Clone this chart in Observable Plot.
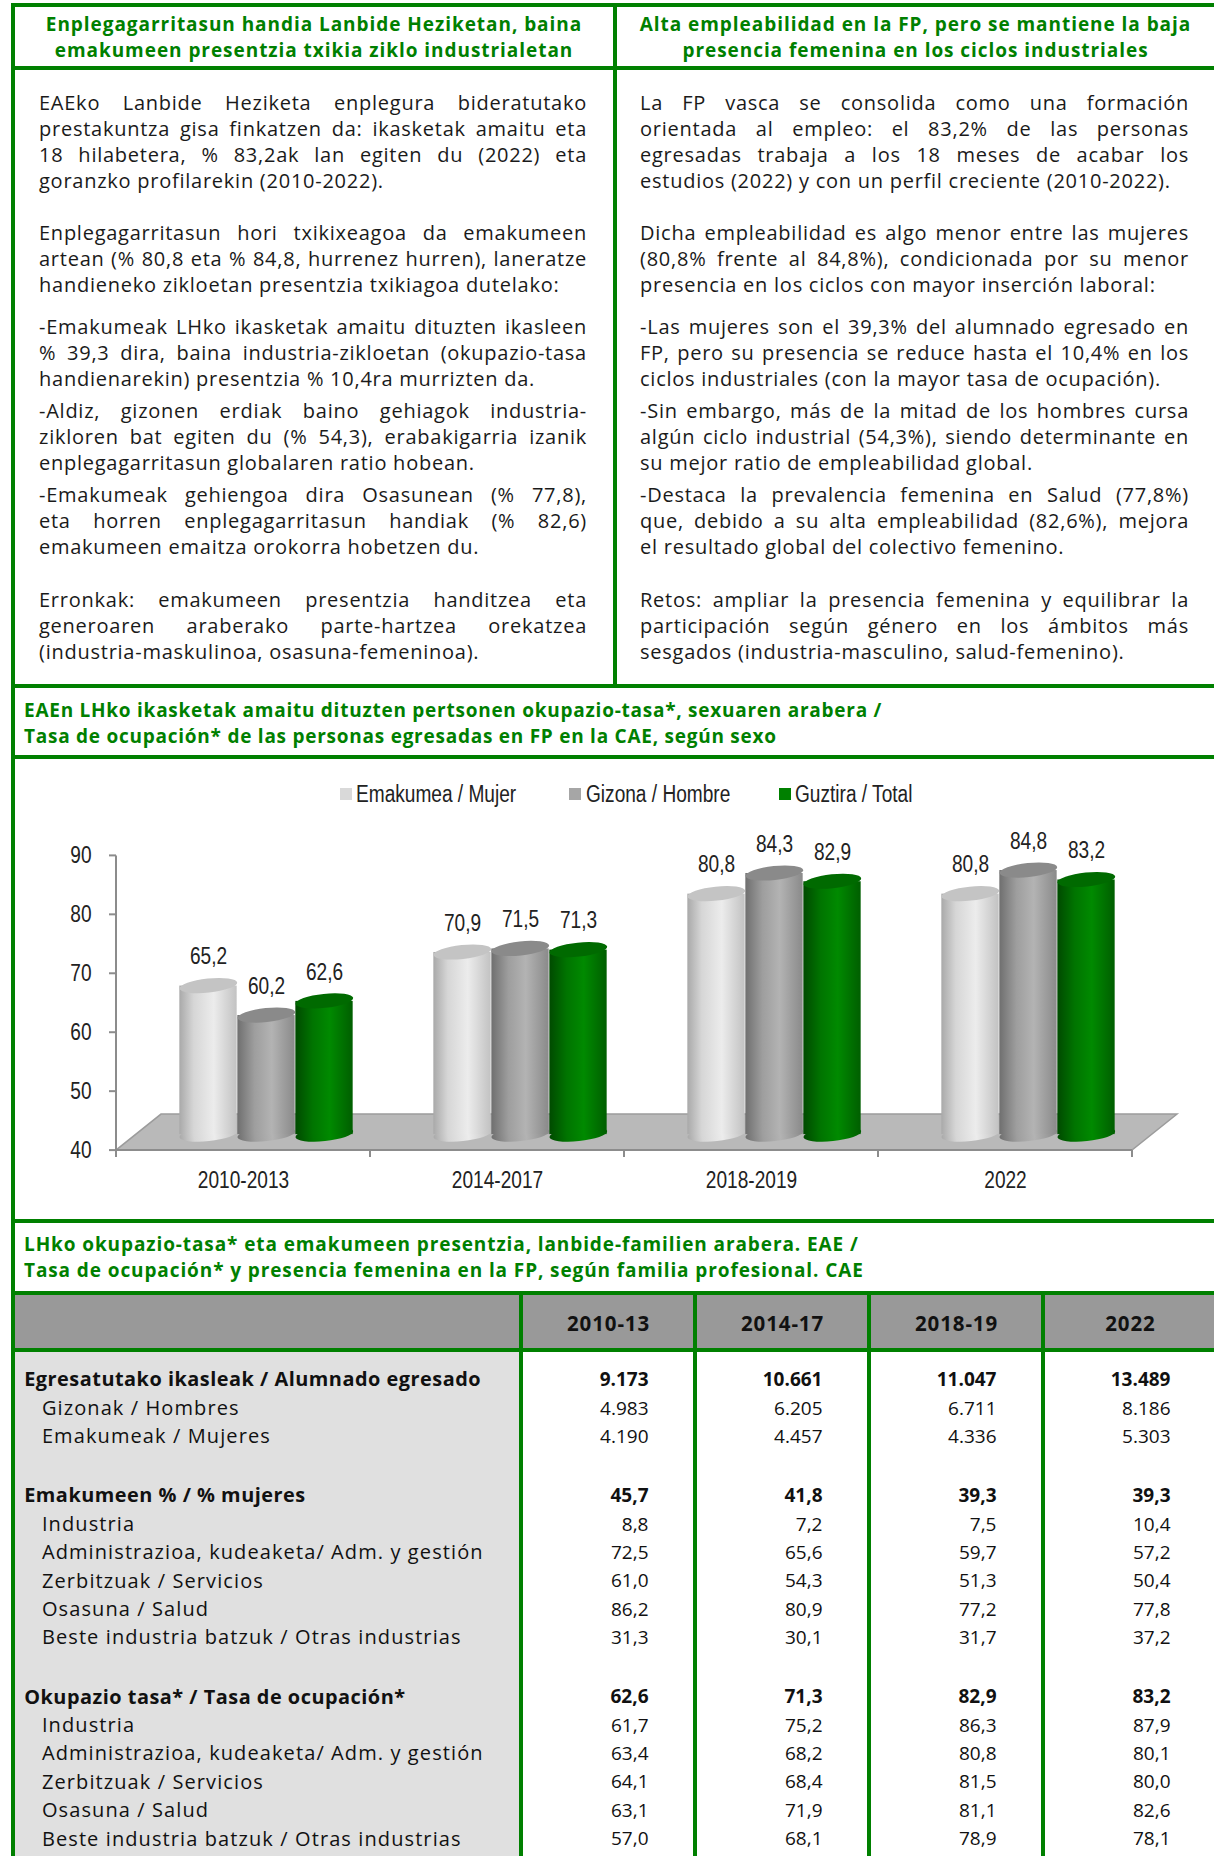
<!DOCTYPE html>
<html><head><meta charset="utf-8">
<script src="https://cdn.jsdelivr.net/npm/d3@7"></script>
<script src="https://cdn.jsdelivr.net/npm/@observablehq/plot@0.6"></script>
<style>
body{margin:0;background:#fff}
#page{position:relative;width:1214px;height:1856px;overflow:hidden;background:#fff;font-family:"Open Sans","Noto Sans",sans-serif;color:#1a1a1a}
.abs{position:absolute}
.ln{position:absolute;height:26px;line-height:26px;font-size:20px;letter-spacing:0.75px;white-space:nowrap;text-align:justify;text-align-last:justify}
.ln.last{text-align-last:left}
.ttl{position:absolute;color:#008000;font-weight:700;line-height:26px;white-space:nowrap}
.leg{position:absolute;font-family:"Liberation Sans",Arial,sans-serif;font-size:23px;line-height:26px;color:#222;white-space:nowrap;transform:scaleX(0.83);transform-origin:left center}
</style></head>
<body><div id="page"></div>
<script>
// ---------- DATA ----------
const chartPeriods = ["2010-2013", "2014-2017", "2018-2019", "2022"];
const chartSeries = ["Emakumea / Mujer", "Gizona / Hombre", "Guztira / Total"];
const mujer  = [65.2, 70.9, 80.8, 80.8];
const hombre = [60.2, 71.5, 84.3, 84.8];
const total  = [62.6, 71.3, 82.9, 83.2];
const yTicks = [40, 50, 60, 70, 80, 90];

const tablePeriods = ["2010-13", "2014-17", "2018-19", "2022"];
const egresados  = [9173, 10661, 11047, 13489];
const hombresN   = [4983, 6205, 6711, 8186];
const mujeresN   = [4190, 4457, 4336, 5303];
const pctMujeres = [45.7, 41.8, 39.3, 39.3];
const pctIndustria = [8.8, 7.2, 7.5, 10.4];
const pctAdmin     = [72.5, 65.6, 59.7, 57.2];
const pctServicios = [61.0, 54.3, 51.3, 50.4];
const pctSalud     = [86.2, 80.9, 77.2, 77.8];
const pctOtras     = [31.3, 30.1, 31.7, 37.2];
const tasaTotal     = [62.6, 71.3, 82.9, 83.2];
const tasaIndustria = [61.7, 75.2, 86.3, 87.9];
const tasaAdmin     = [63.4, 68.2, 80.8, 80.1];
const tasaServicios = [64.1, 68.4, 81.5, 80.0];
const tasaSalud     = [63.1, 71.9, 81.1, 82.6];
const tasaOtras     = [57.0, 68.1, 78.9, 78.1];

const famLabels = ["Industria", "Administrazioa, kudeaketa/ Adm. y gestión", "Zerbitzuak / Servicios", "Osasuna / Salud", "Beste industria batzuk / Otras industrias"];

const tableSections = [
  [
    {label: "Egresatutako ikasleak / Alumnado egresado", values: egresados, bold: true, kind: "int"},
    {label: "Gizonak / Hombres", values: hombresN, kind: "int"},
    {label: "Emakumeak / Mujeres", values: mujeresN, kind: "int"}
  ],
  [
    {label: "Emakumeen % / % mujeres", values: pctMujeres, bold: true, kind: "pct"},
    {label: famLabels[0], values: pctIndustria, kind: "pct"},
    {label: famLabels[1], values: pctAdmin, kind: "pct"},
    {label: famLabels[2], values: pctServicios, kind: "pct"},
    {label: famLabels[3], values: pctSalud, kind: "pct"},
    {label: famLabels[4], values: pctOtras, kind: "pct"}
  ],
  [
    {label: "Okupazio tasa* / Tasa de ocupación*", values: tasaTotal, bold: true, kind: "pct"},
    {label: famLabels[0], values: tasaIndustria, kind: "pct"},
    {label: famLabels[1], values: tasaAdmin, kind: "pct"},
    {label: famLabels[2], values: tasaServicios, kind: "pct"},
    {label: famLabels[3], values: tasaSalud, kind: "pct"},
    {label: famLabels[4], values: tasaOtras, kind: "pct"}
  ]
];

const headLeft = ["Enplegagarritasun handia Lanbide Heziketan, baina", "emakumeen presentzia txikia ziklo industrialetan"];
const headRight = ["Alta empleabilidad en la FP, pero se mantiene la baja", "presencia femenina en los ciclos industriales"];
const textLeft = [
  ["EAEko Lanbide Heziketa enplegura bideratutako", "prestakuntza gisa finkatzen da: ikasketak amaitu eta", "18 hilabetera, % 83,2ak lan egiten du (2022) eta", "goranzko profilarekin (2010-2022)."],
  ["Enplegagarritasun hori txikixeagoa da emakumeen", "artean (% 80,8 eta % 84,8, hurrenez hurren), laneratze", "handieneko zikloetan presentzia txikiagoa dutelako:"],
  ["-Emakumeak LHko ikasketak amaitu dituzten ikasleen", "% 39,3 dira, baina industria-zikloetan (okupazio-tasa", "handienarekin) presentzia % 10,4ra murrizten da."],
  ["-Aldiz, gizonen erdiak baino gehiagok industria-", "zikloren bat egiten du (% 54,3), erabakigarria izanik", "enplegagarritasun globalaren ratio hobean."],
  ["-Emakumeak gehiengoa dira Osasunean (% 77,8),", "eta horren enplegagarritasun handiak (% 82,6)", "emakumeen emaitza orokorra hobetzen du."],
  ["Erronkak: emakumeen presentzia handitzea eta", "generoaren araberako parte-hartzea orekatzea", "(industria-maskulinoa, osasuna-femeninoa)."]
];
const textRight = [
  ["La FP vasca se consolida como una formación", "orientada al empleo: el 83,2% de las personas", "egresadas trabaja a los 18 meses de acabar los", "estudios (2022) y con un perfil creciente (2010-2022)."],
  ["Dicha empleabilidad es algo menor entre las mujeres", "(80,8% frente al 84,8%), condicionada por su menor", "presencia en los ciclos con mayor inserción laboral:"],
  ["-Las mujeres son el 39,3% del alumnado egresado en", "FP, pero su presencia se reduce hasta el 10,4% en los", "ciclos industriales (con la mayor tasa de ocupación)."],
  ["-Sin embargo, más de la mitad de los hombres cursa", "algún ciclo industrial (54,3%), siendo determinante en", "su mejor ratio de empleabilidad global."],
  ["-Destaca la prevalencia femenina en Salud (77,8%)", "que, debido a su alta empleabilidad (82,6%), mejora", "el resultado global del colectivo femenino."],
  ["Retos: ampliar la presencia femenina y equilibrar la", "participación según género en los ámbitos más", "sesgados (industria-masculino, salud-femenino)."]
];
const chartTitle = ["EAEn LHko ikasketak amaitu dituzten pertsonen okupazio-tasa*, sexuaren arabera /", "Tasa de ocupación* de las personas egresadas en FP en la CAE, según sexo"];
const tableTitle = ["LHko okupazio-tasa* eta emakumeen presentzia, lanbide-familien arabera. EAE /", "Tasa de ocupación* y presencia femenina en la FP, según familia profesional. CAE"];

// ---------- LAYOUT ----------
const GREEN = "#008000";
const CHARTFONT = '"Liberation Sans",Arial,sans-serif';
const BODY = '"Open Sans","Noto Sans",sans-serif';
const page = document.getElementById("page");
function box(l, t, w, h, bg) {
  const d = document.createElement("div");
  d.className = "abs";
  d.style.cssText += `left:${l}px;top:${t}px;width:${w}px;height:${h}px;background:${bg}`;
  page.appendChild(d); return d;
}
function el(cls, l, t, w, text, extra = "") {
  const d = document.createElement("div");
  d.className = cls;
  d.style.cssText += `left:${l}px;top:${t}px;${w ? `width:${w}px;` : ""}${extra}`;
  d.textContent = text;
  page.appendChild(d); return d;
}
const loc = d3.formatLocale({decimal: ",", thousands: ".", grouping: [3], currency: ["", ""]});
const fInt = loc.format(",d"), fPct = loc.format(".1f");

// backgrounds
box(15, 1295, 1199, 53, "#999999");
box(15, 1352, 504, 504, "#e0e0e0");

// headings
[headLeft, headRight].forEach((h, k) => {
  h.forEach((s, j) => el("ttl", k ? 617 : 15, 10.5 + 26 * j, k ? 597 : 598, s, "text-align:center;font-size:19px;letter-spacing:0.95px"));
});
// body text
const paraTops = [90, 220, 313.6, 397.6, 481.6, 587];
[textLeft, textRight].forEach((col, k) => {
  col.forEach((para, p) => para.forEach((s, j) => {
    el("ln" + (j === para.length - 1 ? " last" : ""), k ? 640 : 39, paraTops[p] + 26 * j, k ? 549 : 548, s);
  }));
});
chartTitle.forEach((s, j) => el("ttl", 24, 697 + 26 * j, 0, s, "font-size:19px;letter-spacing:0.75px"));
tableTitle.forEach((s, j) => el("ttl", 24, 1230.6 + 26 * j, 0, s, "font-size:19px;letter-spacing:0.9px"));

// legend
const legColors = ["#d9d9d9", "#a6a6a6", GREEN];
const legSq = [339.6, 569, 778.5];
chartSeries.forEach((s, i) => {
  box(legSq[i], 788, 12, 12, legColors[i]);
  el("leg", legSq[i] + 16.5, 781, 0, s);
});

// ---------- CHART ----------
const W = 1214, H = 399, mL = 114.8, mR = 80.5, mT = 35.4, mB = 68.9;
const bw = (W - mL - mR) / chartPeriods.length, cw = 58, DX = 23, DY = -16, RY = 7;
const inset = i => (bw - 3 * cw) / 2 + i * cw;
const seriesVals = [mujer, hombre, total];
const chartData = chartPeriods.flatMap((p, j) => seriesVals.map((v, i) => ({period: p, i, value: v[j]})));
const topFill = ["#c4c4c4", "#8a8a8a", "#006a00"];

function floorMark(index, scales) {
  const x = scales.x, y = scales.y;
  const b = x.bandwidth ? x.bandwidth() : bw;
  const x0 = x(chartPeriods[0]), x1 = x(chartPeriods[chartPeriods.length - 1]) + b, yb = y(40);
  const g = d3.create("svg:g");
  g.append("polygon").attr("points", [[x0, yb], [x1, yb], [x1 + 45, yb - 36], [x0 + 45, yb - 36]].map(p => p.join(",")).join(" "))
    .attr("fill", "#b9b9b9").attr("stroke", "#9c9c9c").attr("stroke-width", 1.5);
  g.append("line").attr("x1", x0).attr("x2", x0).attr("y1", y(90)).attr("y2", yb).attr("stroke", "#8c8c8c").attr("stroke-width", 2);
  g.append("line").attr("x1", x0).attr("x2", x1).attr("y1", yb).attr("y2", yb).attr("stroke", "#8c8c8c").attr("stroke-width", 2);
  for (let k = 0; k <= chartPeriods.length; k++) {
    const xx = x0 + k * b;
    g.append("line").attr("x1", xx).attr("x2", xx).attr("y1", yb).attr("y2", yb + 7).attr("stroke", "#8c8c8c").attr("stroke-width", 2);
  }
  for (const t of yTicks) {
    g.append("line").attr("x1", x0 - 7).attr("x2", x0).attr("y1", y(t)).attr("y2", y(t)).attr("stroke", "#8c8c8c").attr("stroke-width", 2);
  }
  return g.node();
}
function capMark(which) {
  return (index, scales) => {
    const g = d3.create("svg:g");
    for (const d of chartData) {
      const cx = scales.x(d.period) + inset(d.i) + cw / 2 + DX;
      const cy = (which === "top" ? scales.y(d.value) : scales.y(40)) + DY;
      g.append("ellipse").attr("cx", cx).attr("cy", cy).attr("rx", cw / 2).attr("ry", RY)
        .attr("transform", `rotate(-6 ${cx} ${cy})`)
        .attr("fill", which === "top" ? topFill[d.i] : `url(#cyl${d.i})`);
    }
    return g.node();
  };
}

const bodyMarks = [0, 1, 2].map(i => Plot.barY(chartData.filter(d => d.i === i), {
  x: "period", y1: 40, y2: "value", fill: `url(#cyl${i})`,
  insetLeft: inset(i), insetRight: bw - inset(i) - cw, dx: DX, dy: DY
}));
const labelMarks = [0, 1, 2].map(i => Plot.text(chartData.filter(d => d.i === i), {
  x: "period", y: "value", text: d => fPct(d.value),
  dx: inset(i) + cw / 2 - bw / 2 + DX, dy: DY - 29,
  fontFamily: CHARTFONT, fontSize: 23, fill: "#222"
}));

const chart = Plot.plot({
  width: W, height: H, marginLeft: mL, marginRight: mR, marginTop: mT, marginBottom: mB,
  x: {domain: chartPeriods, padding: 0, label: null},
  y: {domain: [40, 90], label: null},
  style: {background: "transparent", fontFamily: CHARTFONT, fontSize: "23px", color: "#222", overflow: "visible"},
  marks: [
    floorMark,
    capMark("bottom"),
    ...bodyMarks,
    capMark("top"),
    ...labelMarks,
    Plot.axisY({ticks: yTicks, tickSize: 0, tickPadding: 23.8, label: null, fontFamily: CHARTFONT, fontSize: 23, fill: "#222"}),
    Plot.axisX({tickSize: 0, tickPadding: 21, label: null, fontFamily: CHARTFONT, fontSize: 23, fill: "#222"})
  ]
});
chart.insertAdjacentHTML("afterbegin", `<defs>
<linearGradient id="cyl0" x1="0" x2="1" y1="0" y2="0"><stop offset="0" stop-color="#a9a9a9"/><stop offset="0.25" stop-color="#d6d6d6"/><stop offset="0.6" stop-color="#ececec"/><stop offset="1" stop-color="#c2c2c2"/></linearGradient>
<linearGradient id="cyl1" x1="0" x2="1" y1="0" y2="0"><stop offset="0" stop-color="#6f6f6f"/><stop offset="0.3" stop-color="#9e9e9e"/><stop offset="0.6" stop-color="#b3b3b3"/><stop offset="1" stop-color="#8a8a8a"/></linearGradient>
<linearGradient id="cyl2" x1="0" x2="1" y1="0" y2="0"><stop offset="0" stop-color="#004a00"/><stop offset="0.3" stop-color="#007400"/><stop offset="0.6" stop-color="#008a00"/><stop offset="1" stop-color="#005e00"/></linearGradient>
</defs>`);
const chartWrap = document.createElement("div");
chartWrap.className = "abs";
chartWrap.style.cssText += "left:0;top:820px";
chartWrap.appendChild(chart);
page.appendChild(chartWrap);
// condense chart text (narrow typeface look)
chart.querySelectorAll("text").forEach(t => {
  const L = t.getComputedTextLength();
  if (L > 0) { t.setAttribute("textLength", (L * 0.83).toFixed(2)); t.setAttribute("lengthAdjust", "spacingAndGlyphs"); }
});

// ---------- TABLE ----------
// row slots: regular rows 1 apart, gap between sections ~2.08 slots
const GAP = 2.083;
const tableRows = [];
let slot = 0;
tableSections.forEach((sec, s) => {
  if (s > 0) slot += GAP - 1;
  sec.forEach(r => { tableRows.push({...r, slot}); slot += 1; });
});
const lastSlot = tableRows[tableRows.length - 1].slot;
const labelData = tableRows.map(r => ({slot: r.slot, label: r.label, bold: !!r.bold}));
const cellData = tableRows.flatMap(r => r.values.map((v, j) => ({slot: r.slot, period: tablePeriods[j], text: r.kind === "int" ? fInt(v) : fPct(v), bold: !!r.bold})));
const TX = {fontFamily: BODY, fill: "#111"};
const table = Plot.plot({
  width: 1214, height: 561, margin: 0,
  x: {type: "band", domain: tablePeriods, range: [521, 1217], padding: 0, axis: null},
  y: {type: "linear", domain: [0, lastSlot], range: [84.6, 543.7], axis: null},
  style: {background: "transparent", fontFamily: BODY, overflow: "visible"},
  marks: [
    Plot.text(tablePeriods, {x: d => d, frameAnchor: "top", dy: 21, fontWeight: 700, fontSize: 20.5, ...TX}),
    Plot.text(labelData.filter(d => d.bold), {y: "slot", text: "label", frameAnchor: "left", textAnchor: "start", dx: 23.7, fontWeight: 700, fontSize: 19.9, ...TX}),
    Plot.text(labelData.filter(d => !d.bold), {y: "slot", text: "label", frameAnchor: "left", textAnchor: "start", dx: 41.4, fontSize: 20, ...TX}),
    Plot.text(cellData.filter(d => d.bold), {x: "period", y: "slot", text: "text", textAnchor: "end", dx: 40, fontWeight: 700, fontSize: 19, ...TX}),
    Plot.text(cellData.filter(d => !d.bold), {x: "period", y: "slot", text: "text", textAnchor: "end", dx: 40, fontSize: 19, ...TX})
  ]
});
table.querySelectorAll('g[font-size="19.9"] text').forEach(t => t.style.letterSpacing = "0.5px");
table.querySelectorAll('g[font-size="20"] text').forEach(t => t.style.letterSpacing = "1.1px");
table.querySelectorAll('g[font-size="20.5"] text').forEach(t => t.style.letterSpacing = "0.9px");
const tableWrap = document.createElement("div");
tableWrap.className = "abs";
tableWrap.style.cssText += "left:0;top:1295px";
tableWrap.appendChild(table);
page.appendChild(tableWrap);

// ---------- BORDERS ----------
box(11, 3, 1210, 4, GREEN);
box(11, 3, 4, 1853, GREEN);
box(11, 66, 1210, 4, GREEN);
box(613, 3, 4, 685, GREEN);
box(11, 684, 1210, 4, GREEN);
box(11, 755, 1210, 4, GREEN);
box(11, 1219, 1210, 4, GREEN);
box(11, 1291, 1210, 4, GREEN);
box(11, 1348, 1210, 4, GREEN);
[519, 693, 867, 1041].forEach(x => box(x, 1291, 4, 565, GREEN));
</script>
</body></html>
